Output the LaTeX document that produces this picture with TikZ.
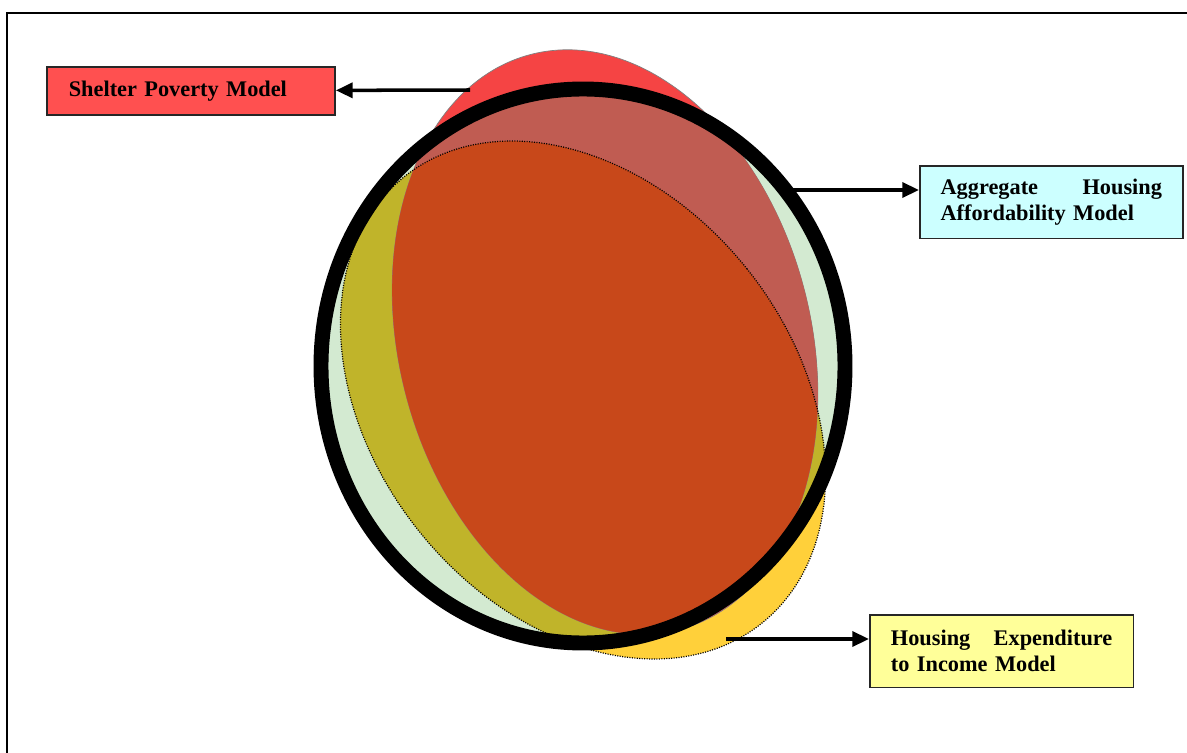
\documentclass[tikz,border=0pt]{standalone}
\usepackage{fontspec}
\setmainfont{Liberation Serif}
\usepackage{tikz}
\usetikzlibrary{arrows.meta}
\definecolor{aggcol}{HTML}{D3EAD1}
\definecolor{incomecol}{HTML}{FFD03A}
\definecolor{incaggcol}{HTML}{C0B42A}
\definecolor{sheltercol}{HTML}{F54444}
\definecolor{shelteraggcol}{HTML}{C05C52}
\definecolor{shelterinccol}{HTML}{C8481A}
\definecolor{shelterbox}{HTML}{FF5050}
\definecolor{aggbox}{HTML}{CCFFFF}
\definecolor{incomebox}{HTML}{FFFF99}

\begin{document}
\begin{tikzpicture}[x=0.02cm,y=-0.02cm]
	\clip (0,0) rectangle (1187,753);
	\draw[line width=1.2pt] (7,13) rectangle (1200,770);
	
	% aggregate housing affordability
	\fill[aggcol] (583,366) ellipse [x radius=262, y radius=277];
	% housing expenditure to income
	\fill[incomecol] (583,400) ellipse [x radius=210, y radius=286, rotate=38.7];
	\begin{scope}
		\clip (583,366) ellipse [x radius=262, y radius=277];
		\fill[incaggcol] (583,400) ellipse [x radius=210, y radius=286, rotate=38.7];
	\end{scope}
	% shelter poverty
	\filldraw[fill=sheltercol, draw=black!50, line width=0.4pt] (605,342) ellipse [x radius=206, y radius=297, rotate=14.4];
	\begin{scope}
		\clip (583,366) ellipse [x radius=262, y radius=277];
		\fill[shelteraggcol] (605,342) ellipse [x radius=206, y radius=297, rotate=14.4];
		\clip (583,400) ellipse [x radius=210, y radius=286, rotate=38.7];
		\fill[shelterinccol] (605,342) ellipse [x radius=206, y radius=297, rotate=14.4];
	\end{scope}
	\draw[line width=0.7pt, dash pattern=on 0.6pt off 0.8pt] (583,400) ellipse [x radius=210, y radius=286, rotate=38.7];
	\draw[line width=8.5pt] (583,366) ellipse [x radius=262, y radius=277];
	
	\begin{scope}[every node/.style={draw=black!85,line width=1pt,anchor=north west,inner ysep=0pt,align=left,
			font=\bfseries\fontsize{12.7}{14.7}\selectfont}]
		\node[fill=shelterbox,text width=139pt,inner xsep=12.5pt,minimum height=27.2pt] (shelter) at (46,66) {Shelter Poverty Model};
		\node[fill=aggbox,text width=126pt,inner xsep=11.8pt,minimum height=41.4pt] (aggregate) at (919,165) {Aggregate\hfill Housing\\Affordability Model};
		\node[fill=incomebox,text width=126pt,inner xsep=12pt,minimum height=41.4pt] (income) at (869,614) {Housing\hfill Expenditure\\to Income Model};
	\end{scope}
	
	\begin{scope}[>={Triangle[length=9.5pt,width=8.5pt]},
		every edge/.style={draw=black,line width=2pt}]
		\coordinate (shelterend) at (470,90);
		\coordinate (aggend) at (792,190);
		\coordinate (incomeend) at (726,639);
		\path [->] (shelterend) edge (shelter);
		\path [->] (aggend) edge (aggend -| aggregate.west);
		\path [->] (incomeend) edge (incomeend -| income.west);
	\end{scope}
\end{tikzpicture}
\end{document}
